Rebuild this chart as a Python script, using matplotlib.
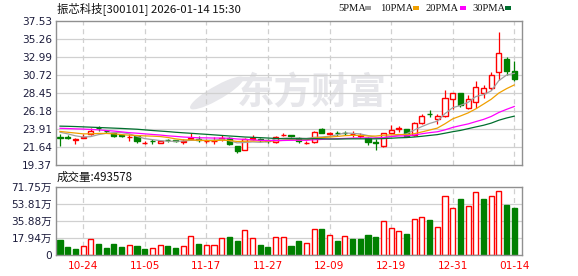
import matplotlib
matplotlib.use("Agg")
import matplotlib.pyplot as plt
from matplotlib.patches import Rectangle, Ellipse
import numpy as np

# ── Data ──────────────────────────────────────────────────────────────────────

opens = [22.85, 22.95, 22.55, 22.80, 23.30, 24.05, 23.65, 23.45, 23.10, 22.85,
         23.00, 22.15, 22.45, 22.15, 22.55, 22.50, 22.30, 22.60, 22.65, 22.35,
         22.35, 22.60, 22.75, 21.75, 21.30, 22.70, 22.65, 22.55, 22.30, 23.10,
         23.10, 22.75, 22.10, 22.30, 23.85, 23.25, 23.45, 23.40, 23.25, 23.05,
         22.80, 22.30, 21.80, 23.45, 23.95, 23.87, 23.15, 24.63, 25.85, 25.13,
         25.60, 27.70, 28.40, 26.52, 27.28, 28.40, 29.04, 31.06, 32.74, 31.23]
highs = [23.30, 23.20, 22.80, 23.30, 24.05, 24.25, 23.75, 23.50, 23.15, 23.25,
         23.05, 22.35, 22.60, 22.45, 22.70, 22.55, 22.60, 23.40, 23.00, 22.60,
         22.85, 23.20, 22.85, 21.80, 22.80, 23.20, 22.75, 22.65, 23.00, 23.40,
         23.20, 22.85, 22.40, 23.70, 24.05, 23.55, 23.70, 23.60, 23.70, 23.45,
         22.85, 22.60, 23.45, 24.40, 24.30, 23.95, 24.80, 25.75, 26.30, 25.80,
         28.85, 28.45, 28.50, 28.20, 29.96, 29.50, 31.14, 36.10, 33.03, 32.49]
lows = [21.80, 22.60, 22.05, 22.75, 23.20, 23.70, 23.40, 22.95, 22.95, 22.35,
        22.20, 22.00, 22.05, 22.10, 22.30, 22.30, 22.00, 22.50, 22.30, 22.10,
        22.00, 22.35, 21.90, 20.90, 21.20, 22.50, 22.30, 22.10, 22.10, 23.00,
        22.80, 22.20, 22.00, 22.15, 23.35, 23.10, 23.00, 23.15, 22.95, 22.75,
        21.90, 21.25, 21.70, 23.45, 23.55, 22.95, 23.00, 24.50, 25.40, 24.50,
        25.45, 26.45, 26.70, 26.45, 26.52, 27.86, 28.83, 30.09, 30.72, 29.96]
closes = [22.75, 22.75, 22.60, 22.95, 23.70, 24.00, 23.60, 23.00, 23.00, 22.90,
          22.40, 22.20, 22.35, 22.40, 22.50, 22.35, 22.38, 22.75, 22.55, 22.45,
          22.45, 22.75, 22.00, 21.15, 22.70, 22.80, 22.50, 22.35, 22.90, 23.20,
          23.00, 22.35, 22.20, 23.57, 23.45, 23.35, 23.35, 23.35, 23.30, 23.10,
          22.30, 22.20, 23.37, 23.80, 24.05, 23.05, 24.63, 25.55, 25.75, 25.50,
          27.80, 28.40, 26.94, 27.70, 29.17, 29.04, 30.72, 33.45, 31.23, 30.22]

ma5 = [23.50, 23.30, 23.05, 22.90, 22.95, 23.20, 23.37, 23.45, 23.46, 23.30,
       22.98, 22.70, 22.57, 22.45, 22.37, 22.36, 22.40, 22.48, 22.51, 22.50,
       22.52, 22.59, 22.44, 22.16, 22.21, 22.28, 22.23, 22.30, 22.65, 22.75,
       22.79, 22.76, 22.73, 22.86, 22.91, 22.98, 23.18, 23.41, 23.36, 23.29,
       23.08, 22.85, 22.85, 22.95, 23.14, 23.29, 23.78, 24.22, 24.61, 24.90,
       25.85, 26.60, 26.88, 27.27, 28.00, 28.25, 28.71, 30.02, 30.72, 30.93]
ma10 = [23.60, 23.50, 23.40, 23.30, 23.30, 23.35, 23.35, 23.30, 23.20, 23.13,
        23.09, 23.04, 23.01, 22.96, 22.84, 22.67, 22.55, 22.53, 22.48, 22.44,
        22.44, 22.50, 22.46, 22.34, 22.36, 22.40, 22.41, 22.37, 22.41, 22.48,
        22.54, 22.50, 22.52, 22.76, 22.83, 22.89, 22.97, 23.07, 23.11, 23.10,
        23.03, 23.02, 23.13, 23.16, 23.22, 23.19, 23.32, 23.54, 23.78, 24.02,
        24.57, 25.19, 25.55, 25.94, 26.45, 27.05, 27.66, 28.45, 29.00, 29.47]
ma20 = [24.00, 23.97, 23.93, 23.90, 23.85, 23.80, 23.72, 23.65, 23.55, 23.45,
        23.38, 23.30, 23.22, 23.15, 23.05, 22.98, 22.90, 22.85, 22.80, 22.79,
        22.77, 22.77, 22.74, 22.65, 22.60, 22.54, 22.48, 22.45, 22.45, 22.46,
        22.49, 22.50, 22.49, 22.55, 22.60, 22.65, 22.69, 22.72, 22.76, 22.79,
        22.79, 22.76, 22.83, 22.96, 23.03, 23.04, 23.15, 23.31, 23.45, 23.56,
        23.80, 24.11, 24.34, 24.55, 24.84, 25.12, 25.49, 26.00, 26.39, 26.75]
ma30 = [24.27, 24.25, 24.22, 24.18, 24.14, 24.10, 24.06, 24.02, 23.98, 23.93,
        23.88, 23.80, 23.72, 23.65, 23.58, 23.50, 23.43, 23.37, 23.30, 23.24,
        23.17, 23.10, 23.03, 22.97, 22.90, 22.86, 22.82, 22.77, 22.72, 22.68,
        22.69, 22.68, 22.66, 22.69, 22.68, 22.65, 22.64, 22.66, 22.67, 22.67,
        22.67, 22.67, 22.70, 22.75, 22.80, 22.83, 22.90, 22.99, 23.10, 23.20,
        23.38, 23.57, 23.73, 23.95, 24.17, 24.38, 24.65, 25.02, 25.30, 25.53]

# volume in 万, and whether the bar is drawn as "up" (red, hollow)
volume = [15.75, 8.40, 6.30, 9.10, 16.45, 11.55, 7.00, 11.55, 8.05, 10.15,
          9.45, 6.30, 7.00, 10.15, 9.45, 7.35, 9.45, 19.60, 11.55, 10.15,
          10.15, 17.50, 18.90, 14.70, 25.90, 17.50, 10.50, 8.40, 18.55, 18.55,
          9.45, 14.70, 12.25, 26.95, 27.30, 20.65, 14.70, 19.60, 16.80, 16.80,
          21.00, 18.90, 35.35, 28.00, 25.20, 22.05, 37.45, 39.55, 36.75, 29.05,
          61.95, 49.00, 58.80, 51.45, 65.80, 58.80, 61.95, 67.20, 52.50, 49.36]
vol_up = [0, 0, 0, 1, 1, 0, 0, 0, 0, 1,
          0, 0, 1, 1, 0, 0, 1, 1, 0, 1,
          1, 1, 0, 0, 1, 1, 0, 0, 1, 1,
          0, 0, 1, 1, 0, 1, 0, 1, 0, 0,
          0, 0, 1, 1, 1, 0, 1, 1, 0, 1,
          1, 1, 0, 1, 1, 0, 1, 1, 0, 0]

date_labels = ["10-24", "11-05", "11-17", "11-27", "12-09", "12-19", "12-31", "01-14"]
date_index = [3, 11, 19, 27, 35, 43, 51, 59]

price_ticks = [19.37, 21.64, 23.91, 26.18, 28.45, 30.72, 32.99, 35.26, 37.53]
vol_ticks = [0, 17.94, 35.88, 53.81, 71.75]
vol_tick_labels = ["0", "17.94万", "35.88万", "53.81万", "71.75万"]

ma_names = ["5PMA", "10PMA", "20PMA", "30PMA"]
last_volume = 493578

# ── Style ────────────────────────────────────────────────────────────────────

RED = "#ff0000"
GREEN = "#008000"
MA_COLORS = ["#a0a0a0", "#f0a000", "#ff00ff", "#006f2e"]
FRAME = "#909090"
GRID = "#d0d0d0"
LABEL = "#1c1c3c"
CJK = ["DejaVu Sans", "Noto Sans CJK SC"]

W, H = 578, 276
fig = plt.figure(figsize=(W / 100, H / 100), dpi=100, facecolor="white")
ax = fig.add_axes([56 / W, 1 - 165 / H, 466 / W, 144 / H])
axv = fig.add_axes([56 / W, 1 - 255 / H, 466 / W, 68.3 / H])

x = np.arange(len(closes))
xlim = (-0.52, len(closes))

# ── Watermark ────────────────────────────────────────────────────────────────

ax.text(0.55, 0.50, "东方财富", transform=ax.transAxes, ha="center", va="center",
        fontsize=27, fontweight="bold", color="#e6e6ea", family="Noto Sans CJK SC",
        zorder=0)
ax.add_patch(Ellipse((0.345, 0.50), 0.05, 0.25, angle=-25, transform=ax.transAxes,
                     facecolor="#e6e6ea", edgecolor="none", zorder=0))

# ── Candles ──────────────────────────────────────────────────────────────────

o = np.array(opens)
c = np.array(closes)
up = c >= o
body_lo = np.minimum(o, c)
body_h = np.maximum(np.abs(c - o), 0.02)
BW = 0.66

ax.vlines(x[up], np.array(lows)[up], body_lo[up], color=RED, lw=0.9, zorder=2)
ax.vlines(x[up], np.maximum(o, c)[up], np.array(highs)[up], color=RED, lw=0.9, zorder=2)
ax.vlines(x[~up], np.array(lows)[~up], np.array(highs)[~up], color=GREEN, lw=0.9, zorder=2)
ax.bar(x[up], body_h[up], bottom=body_lo[up], width=BW, facecolor="white",
       edgecolor=RED, linewidth=1.0, zorder=2)
ax.bar(x[~up], body_h[~up], bottom=body_lo[~up], width=BW, facecolor=GREEN,
       edgecolor=GREEN, linewidth=1.0, zorder=2)

for vals, color in zip([ma5, ma10, ma20, ma30], MA_COLORS):
    ax.plot(x, vals, color=color, lw=0.9, zorder=3)

# ── Volume ───────────────────────────────────────────────────────────────────

vu = np.array(vol_up, dtype=bool)
vol = np.array(volume)
axv.bar(x[vu], vol[vu], width=BW, facecolor="white", edgecolor=RED,
        linewidth=1.0, zorder=2)
axv.bar(x[~vu], vol[~vu], width=BW, facecolor=GREEN, edgecolor=GREEN,
        linewidth=1.0, zorder=2)

# ── Axes styling ─────────────────────────────────────────────────────────────

for a in (ax, axv):
    a.set_xlim(*xlim)
    for s in a.spines.values():
        s.set_color(FRAME)
        s.set_linewidth(1.0)
    for xi in date_index:
        a.axvline(xi, color=GRID, lw=0.9, ls=(0, (4, 3)), zorder=1)
    a.tick_params(length=0, pad=3, labelsize=7.6, labelcolor=LABEL)

ax.set_ylim(price_ticks[0], price_ticks[-1])
ax.set_yticks(price_ticks)
ax.set_yticklabels([f"{t:.2f}" for t in price_ticks])
ax.set_xticks([])
for t in price_ticks[1:-1]:
    ax.axhline(t, color=GRID, lw=0.9, zorder=1)

axv.set_ylim(0, vol_ticks[-1])
axv.set_yticks(vol_ticks)
axv.set_yticklabels(vol_tick_labels, family=CJK)
for t in vol_ticks[1:-1]:
    axv.axhline(t, color=GRID, lw=0.9, zorder=1)
axv.set_xticks(date_index)
axv.set_xticklabels(date_labels, color=RED, fontsize=7.6)
axv.tick_params(axis="x", pad=4)

# ── Texts ────────────────────────────────────────────────────────────────────

fig.text(57 / W, 1 - 8.5 / H, "振芯科技[300101] 2026-01-14 15:30", ha="left", va="center",
         fontsize=8.2, family=["Noto Sans CJK SC", "DejaVu Sans"], color="#111111")
fig.text(57 / W, 1 - 177 / H, f"成交量:{last_volume}", ha="left", va="center",
         fontsize=8.3, family=["Noto Sans CJK SC", "DejaVu Sans"], color="#111111")

legend_x = [338, 380, 426, 472]
swatch_x = [365, 413, 460, 505]
for name, color, lx, sx in zip(ma_names, MA_COLORS, legend_x, swatch_x):
    fig.text(lx / W, 1 - 8.5 / H, name, ha="left", va="center", fontsize=7.6,
             family="Liberation Serif", color="#111111")
    fig.patches.append(Rectangle((sx / W, 1 - 10 / H), 5.5 / W, 3.5 / H,
                                 transform=fig.transFigure, facecolor=color,
                                 edgecolor="none"))

fig.savefig("out.png", dpi=100, facecolor="white")
